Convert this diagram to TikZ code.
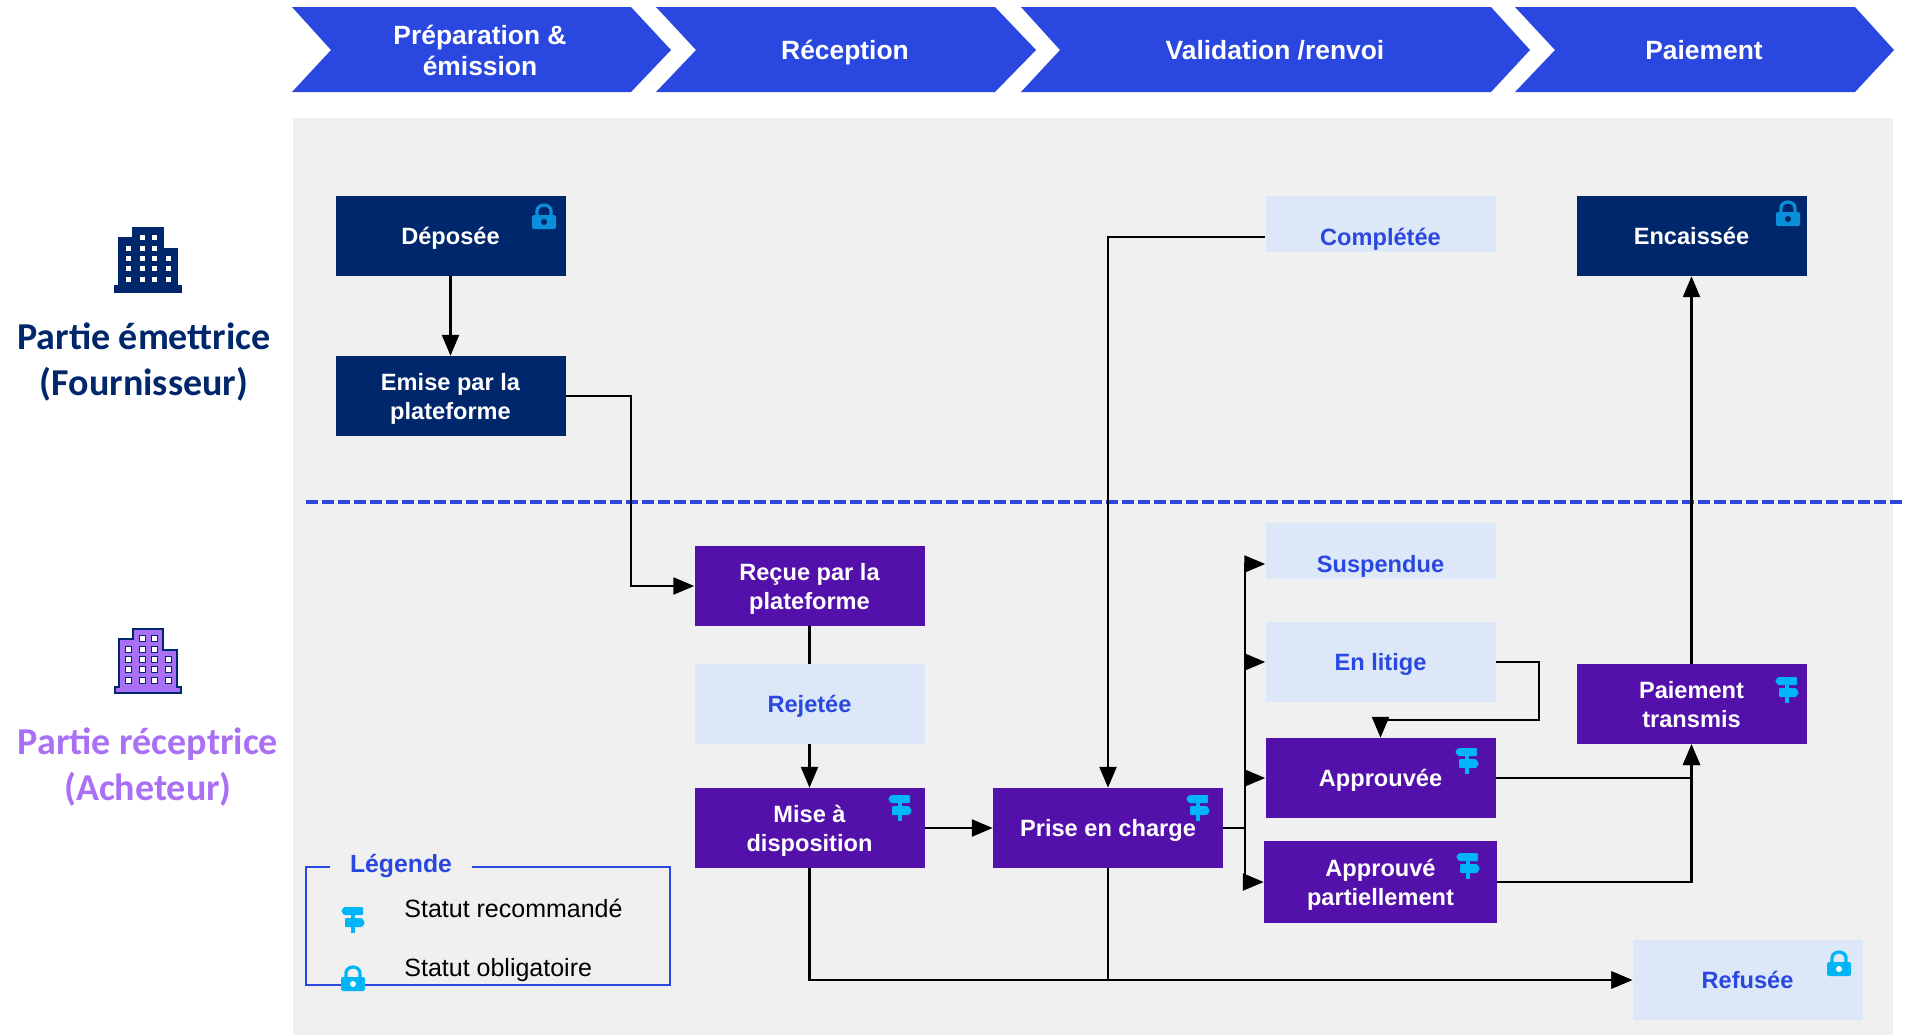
\documentclass[tikz,border=0pt]{standalone}
\usepackage{xcolor}
\usepackage{fontspec}
\setmainfont{Liberation Sans}
\newfontfamily\partyfont{Carlito}
\usetikzlibrary{arrows,positioning,shapes}
\usetikzlibrary{calc}

\definecolor{navy}{HTML}{00266C}
\definecolor{violet}{HTML}{5410AB}
\definecolor{pale}{HTML}{DCE8F8}
\definecolor{royal}{HTML}{2A48E0}
\definecolor{panel}{HTML}{F0F0F0}
\definecolor{sky}{HTML}{00B5F5}
\definecolor{lockblue}{HTML}{0A8FDB}
\definecolor{lilac}{HTML}{A970F5}

\begin{document}
\begin{tikzpicture}[x=.5pt,y=-.5pt,
  every node/.style={align=center,inner sep=0},
  statebox/.style={minimum width=115pt,minimum height=40pt,text=white,
    text height=8.5pt,text depth=0pt,
    font=\bfseries\fontsize{11.8}{14.5}\selectfont},
  twolines/.style={text height=23pt,text depth=0pt},
  emitter/.style={statebox,fill=navy},
  receiver/.style={statebox,fill=violet},
  optional/.style={statebox,fill=pale,text=royal},
  lowered/.style={optional,minimum height=28pt,text height=24.5pt,text depth=3.5pt},
  phase/.style={text=white,text height=9.5pt,text depth=0pt,
    font=\bfseries\fontsize{13.2}{15.5}\selectfont},
  chevron/.style={fill=royal},
  party/.style={font=\partyfont\bfseries\fontsize{19}{23.4}\selectfont},
  legendbox/.style={draw=royal,line width=1pt,minimum width=182pt,minimum height=59pt},
  legendhead/.style={fill=panel,minimum width=71pt,minimum height=8pt,text=royal,
    font=\bfseries\fontsize{12.4}{14}\selectfont},
  legendtext/.style={anchor=west,font=\fontsize{12.5}{15}\selectfont},
  to/.style={->,>=triangle 45,line width=1.4pt},
  split/.style={royal,line width=1.8pt,dash pattern=on 6pt off 2pt},
  pics/padlock/.style 2 args={code={
    \draw[#1,line width=1.6pt] (-7,-1) -- (-7,-6) arc (180:360:7 and 6) -- (7,-1);
    \fill[#1,rounded corners=1pt] (-12,-2) rectangle (12,12);
    \fill[#2] (0,5) circle (1.5pt);
  }},
  pics/signpost/.style={code={
    \fill[sky] (-2,-5) rectangle (2,13);
    \fill[sky,rounded corners=.5pt] (-12,-9) -- (-9,-13) -- (10,-13) -- (10,-5) -- (-9,-5) -- cycle;
    \fill[sky,rounded corners=.5pt] (-8,-2) -- (9,-2) -- (12,3) -- (9,7) -- (-8,7) -- cycle;
  }},
  pics/tower/.style 2 args={code={
    \draw[fill=#1,draw=#2,line width=.8pt] (-33,32) -- (-33,26) -- (-29,26) -- (-29,-22) -- (-15,-22)
      -- (-15,-32) -- (15,-32) -- (15,-11) -- (29,-11) -- (29,26) -- (33,26) -- (33,32) -- cycle;
    \foreach \px/\py in {-6/-23,6/-23,-20/-12,-6/-12,6/-12,-20/-2,-6/-2,6/-2,20/-2,
      -20/8,-6/8,6/8,20/8,-20/19,-6/19,6/19,20/19}
      \draw[fill=white,draw=#2,line width=.4pt] (\px-3,\py-3) rectangle (\px+3,\py+3);
  }}]

    \fill[panel] (293,118) rectangle (1893,1035);

    % phases
    \fill[chevron] (292,7) -- (631,7) -- (671,50) -- (631,92) -- (292,92) -- (331,50) -- cycle;
    \fill[chevron] (656,7) -- (995,7) -- (1036,50) -- (995,92) -- (656,92) -- (696,50) -- cycle;
    \fill[chevron] (1021,7) -- (1491,7) -- (1530,50) -- (1491,92) -- (1021,92) -- (1060,50) -- cycle;
    \fill[chevron] (1515,7) -- (1855,7) -- (1894,50) -- (1855,92) -- (1515,92) -- (1555,50) -- cycle;
    \node[phase,text height=25pt](prep) at (480,50){Préparation \&\\émission};
    \node[phase](reception) at (845,50){Réception};
    \node[phase](validation) at (1275,50){Validation /renvoi};
    \node[phase](payment) at (1704,50){Paiement};

    % parties
    \pic at (148,260) {tower={navy}{navy}};
    \node[party,text=navy](emitting) at (144,362){Partie émettrice\\(Fournisseur)};
    \pic at (148,661) {tower={lilac}{navy}};
    \node[party,text=lilac](receiving) at (148,767){Partie réceptrice\\(Acheteur)};

    % states
    \node[emitter](deposee) at (450.5,236){Déposée};
    \node[emitter,twolines](emise) at (450.5,396){Emise par la\\plateforme};
    \node[receiver,twolines](recue) at (809.5,586){Reçue par la\\plateforme};
    \node[optional](rejetee) at (809.5,704){Rejetée};
    \node[receiver,twolines](mise) at (809.5,828){Mise à\\disposition};
    \node[receiver](prise) at (1108,828){Prise en charge};
    \node[lowered](completee) at (1380.5,224){Complétée};
    \node[lowered](suspendue) at (1380.5,551){Suspendue};
    \node[optional](enlitige) at (1380.5,662){En litige};
    \node[receiver](approuvee) at (1380.5,778){Approuvée};
    \node[receiver,twolines,minimum width=116.5pt,minimum height=41pt](partiel) at (1380.5,882){Approuvé\\partiellement};
    \node[emitter](encaissee) at (1691.5,236){Encaissée};
    \node[receiver,twolines](transmis) at (1691.5,704){Paiement\\transmis};
    \node[optional](refusee) at (1747.5,980){Refusée};

    \coordinate (emisebend) at (631,586);
    \coordinate (fork) at (1245,828);
    \coordinate (litigebend) at (1539,720);
    \coordinate (leftend) at (306,502);
    \coordinate (rightend) at (1906,502);

    \draw[split](leftend) -- (rightend);

    \draw[to](deposee) -- (emise);
    \draw[to](emise.east) -| (emisebend) -- (recue.west);
    \draw[line width=1.4pt](recue) -- (rejetee);
    \draw[to](rejetee) -- (mise);
    \draw[to](mise) -- (prise);
    \draw[to](mise.south) |- (refusee.west);
    \draw[to](prise.south) |- (refusee.west);
    \draw[to]([yshift=-6.5pt]completee.west) -| (prise.north);
    \draw[to](prise.east) -- (fork) |- ([yshift=-6.5pt]suspendue.west);
    \draw[to](prise.east) -- (fork) |- (enlitige.west);
    \draw[to](prise.east) -- (fork) |- (approuvee.west);
    \draw[to](prise.east) -- (fork) |- (partiel.west);
    \draw[to](enlitige.east) -| (litigebend) -| (approuvee.north);
    \draw[to](approuvee.east) -| (transmis.south);
    \draw[to](partiel.east) -| (transmis.south);
    \draw[to](transmis) -- (encaissee);

    % icons
    \pic at (544,217) {padlock={lockblue}{navy}};
    \pic at (1788,214) {padlock={lockblue}{navy}};
    \pic at (1839,964) {padlock={sky}{white}};
    \pic at (900,808) {signpost};
    \pic at (1198,808) {signpost};
    \pic at (1467,761) {signpost};
    \pic at (1468,866) {signpost};
    \pic at (1787,690) {signpost};

    % legend
    \node[legendbox](legend) at (488,926){};
    \node[legendhead](legendtitle) at (401,866){Légende};
    \node[legendtext](recommended) at (404,908){Statut recommandé};
    \node[legendtext](mandatory) at (404,970){Statut obligatoire};
    \pic at (353,920) {signpost};
    \pic at (353,979) {padlock={sky}{white}};

    \pgfresetboundingbox
    \useasboundingbox (0,0) rectangle (1906,1034);
\end{tikzpicture}
\end{document}
